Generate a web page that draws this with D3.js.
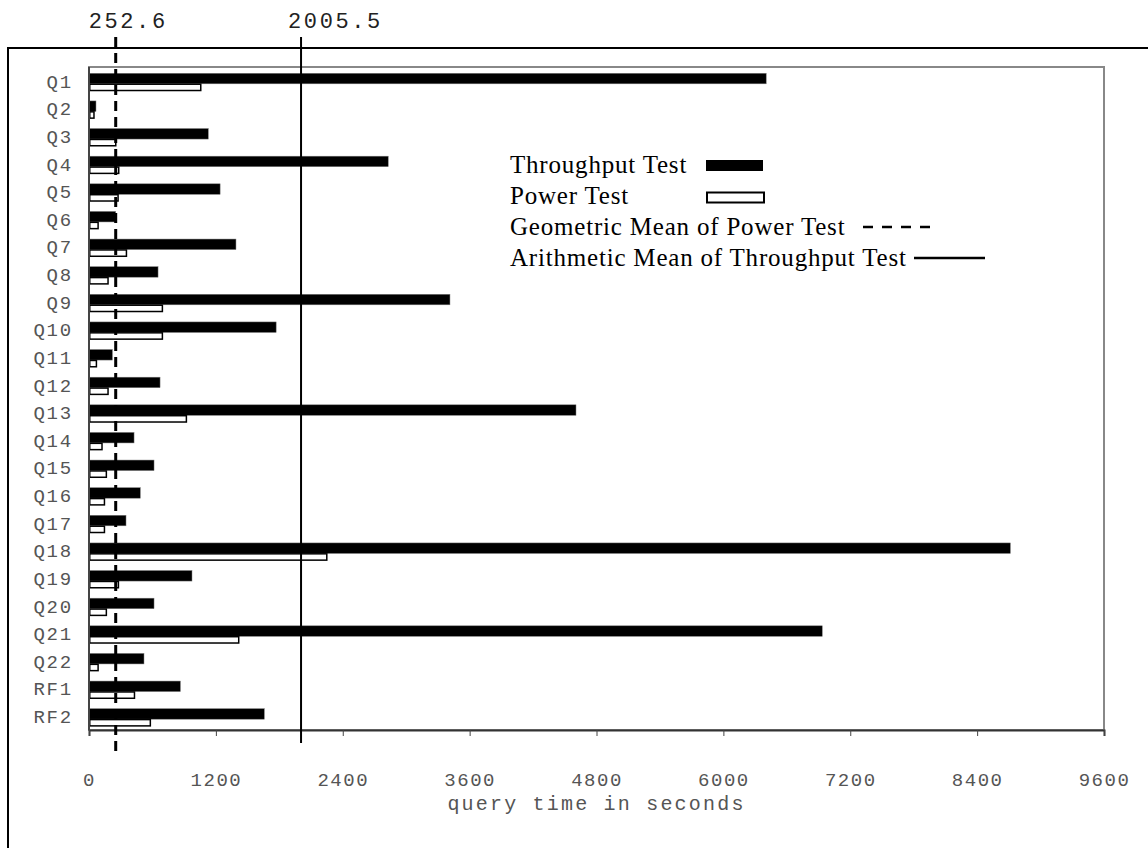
<!DOCTYPE html>
<html>
<head>
<meta charset="utf-8">
<script src="https://cdn.jsdelivr.net/npm/d3@7"></script>
<style>
  body { margin: 0; background: #fff; }
  .mono { font-family: "Liberation Mono", "Courier New", monospace; }
  .serif { font-family: "Liberation Serif", "Times New Roman", serif; }
</style>
</head>
<body>
<svg id="chart" width="1148" height="848"></svg>
<script>
// query names
var queries = ["Q1", "Q2", "Q3", "Q4", "Q5", "Q6", "Q7", "Q8", "Q9", "Q10", "Q11", "Q12",
  "Q13", "Q14", "Q15", "Q16", "Q17", "Q18", "Q19", "Q20", "Q21", "Q22", "RF1", "RF2"];

// seconds
var throughputTest = [6405, 66, 1128, 2830, 1240, 252, 1390, 653, 3414, 1770, 221, 672,
  4606, 426, 615, 485, 350, 8714, 974, 615, 6935, 520, 864, 1658];
var powerTest = [1050, 40, 246, 274, 268, 79, 347, 173, 687, 687, 63, 173,
  914, 116, 157, 139, 139, 2242, 271, 157, 1409, 79, 423, 573];

var geoMeanPower = 252.6;
var arithMeanThroughput = 2005.5;

var xTicks = [0, 1200, 2400, 3600, 4800, 6000, 7200, 8400, 9600];

var legendLabels = ["Throughput Test", "Power Test", "Geometric Mean of Power Test",
  "Arithmetic Mean of Throughput Test"];

var svg = d3.select('#chart');

var plot = {left: 89, right: 1104, top: 67, bottom: 730};

var x = d3.scaleLinear()
  .domain([0, 9600])
  .range([plot.left, plot.right]);

var y = d3.scaleBand()
  .domain(queries)
  .range([plot.top, plot.bottom]);

// outer frame, runs off the right and bottom
svg.append('rect')
  .attr('x', 8).attr('y', 48)
  .attr('width', 1200).attr('height', 900)
  .attr('fill', 'none')
  .attr('stroke', '#000')
  .attr('stroke-width', 2);

// plot border
svg.append('rect')
  .attr('x', plot.left).attr('y', plot.top)
  .attr('width', plot.right - plot.left)
  .attr('height', plot.bottom - plot.top)
  .attr('fill', 'none')
  .attr('stroke', '#888')
  .attr('stroke-width', 2);

// bars
var mid = function(d) { return y(d) + y.bandwidth() / 2; };

svg.append('g').selectAll('rect')
  .data(queries)
  .enter()
  .append('rect')
  .attr('x', x(0))
  .attr('y', function(d) { return mid(d) - 7.5; })
  .attr('width', function(d, i) { return x(throughputTest[i]) - x(0); })
  .attr('height', 10.5)
  .attr('fill', '#000')
  .attr('stroke', '#777')
  .attr('stroke-width', 0.5);

svg.append('g').selectAll('rect')
  .data(queries)
  .enter()
  .append('rect')
  .attr('x', x(0) + 0.75)
  .attr('y', function(d) { return mid(d) + 3.4; })
  .attr('width', function(d, i) { return x(powerTest[i]) - x(0); })
  .attr('height', 6.3)
  .attr('fill', '#fff')
  .attr('stroke', '#000')
  .attr('stroke-width', 1.5);

// x axis
var xAxis = d3.axisBottom(x)
  .tickValues(xTicks)
  .tickSize(6)
  .tickPadding(37)
  .tickFormat(d3.format('d'));

var gx = svg.append('g')
  .attr('transform', 'translate(0,' + plot.bottom + ')')
  .call(xAxis);
gx.select('.domain').attr('stroke', '#333').attr('stroke-width', 2);
gx.selectAll('.tick line').attr('stroke', '#444').attr('stroke-width', 1);
gx.selectAll('.tick text')
  .attr('class', 'mono')
  .style('font-size', '19px')
  .style('letter-spacing', '1.5px')
  .attr('fill', '#555');

// left axis line
svg.append('line')
  .attr('x1', plot.left).attr('x2', plot.left)
  .attr('y1', plot.top).attr('y2', plot.bottom)
  .attr('stroke', '#444')
  .attr('stroke-width', 2);

// query labels
svg.append('g').selectAll('text')
  .data(queries)
  .enter()
  .append('text')
  .attr('class', 'mono')
  .attr('x', 73)
  .attr('y', function(d) { return mid(d); })
  .attr('dy', '0.36em')
  .attr('text-anchor', 'end')
  .style('font-size', '19px')
  .style('letter-spacing', '1.8px')
  .attr('fill', '#555')
  .text(function(d) { return d; });

// axis title
svg.append('text')
  .attr('class', 'mono')
  .attr('x', (plot.left + plot.right) / 2)
  .attr('y', 810)
  .attr('text-anchor', 'middle')
  .style('font-size', '20px')
  .style('letter-spacing', '2.2px')
  .attr('fill', '#555')
  .text('query time in seconds');

// mean lines
svg.append('line')
  .attr('x1', x(geoMeanPower)).attr('x2', x(geoMeanPower))
  .attr('y1', 37).attr('y2', 757)
  .attr('stroke', '#000')
  .attr('stroke-width', 3)
  .attr('stroke-dasharray', '10,6');

svg.append('line')
  .attr('x1', x(arithMeanThroughput)).attr('x2', x(arithMeanThroughput))
  .attr('y1', 37).attr('y2', 743)
  .attr('stroke', '#000')
  .attr('stroke-width', 2);

// the value labels sit a little right of their lines
var labelShift = [-27, -13];

svg.append('g').selectAll('text')
  .data([geoMeanPower, arithMeanThroughput])
  .enter()
  .append('text')
  .attr('class', 'mono')
  .attr('x', function(d, i) { return x(d) + labelShift[i]; })
  .attr('y', 28)
  .attr('text-anchor', 'start')
  .style('font-size', '22px')
  .style('letter-spacing', '2.6px')
  .attr('fill', '#222')
  .text(function(d) { return d3.format('.1f')(d); });

// legend
var legend = svg.append('g').attr('class', 'serif');
var rowY = [173, 204, 235, 266];

legend.selectAll('text')
  .data(legendLabels)
  .enter()
  .append('text')
  .attr('x', 510)
  .attr('y', function(d, i) { return rowY[i]; })
  .style('font-size', '25px')
  .style('letter-spacing', '0.8px')
  .attr('fill', '#000')
  .text(function(d) { return d; });

legend.append('rect')
  .attr('x', 706).attr('y', 160).attr('width', 57).attr('height', 11)
  .attr('fill', '#000');
legend.append('rect')
  .attr('x', 707).attr('y', 192.5).attr('width', 57).attr('height', 10)
  .attr('fill', '#fff').attr('stroke', '#000').attr('stroke-width', 2);
legend.append('line')
  .attr('x1', 863).attr('x2', 930).attr('y1', 227).attr('y2', 227)
  .attr('stroke', '#000').attr('stroke-width', 2.5)
  .attr('stroke-dasharray', '10,9');
legend.append('line')
  .attr('x1', 914).attr('x2', 985).attr('y1', 258).attr('y2', 258)
  .attr('stroke', '#000').attr('stroke-width', 2.5);
</script>
</body>
</html>
